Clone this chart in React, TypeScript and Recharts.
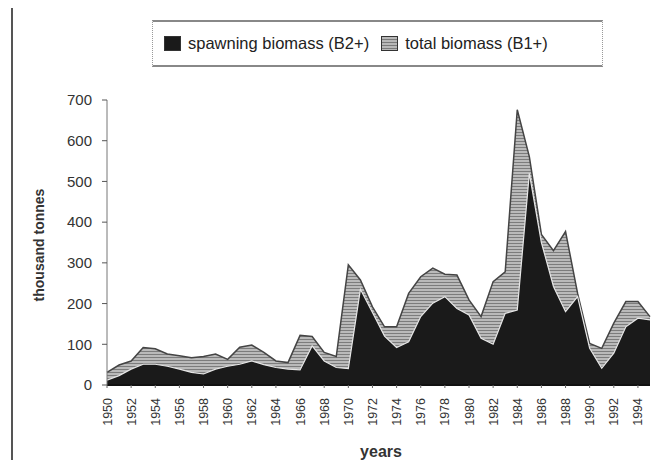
import { Area, AreaChart, XAxis, YAxis } from "recharts";

// stock biomass by year, thousand tonnes
const years = [
  1950, 1951, 1952, 1953, 1954, 1955, 1956, 1957, 1958, 1959,
  1960, 1961, 1962, 1963, 1964, 1965, 1966, 1967, 1968, 1969,
  1970, 1971, 1972, 1973, 1974, 1975, 1976, 1977, 1978, 1979,
  1980, 1981, 1982, 1983, 1984, 1985, 1986, 1987, 1988, 1989,
  1990, 1991, 1992, 1993, 1994, 1995,
];

const totalBiomass = [
  31, 49, 59, 92, 89, 76, 72, 67, 70, 76,
  63, 93, 98, 80, 59, 55, 122, 119, 80, 70,
  295, 258, 192, 143, 143, 225, 266, 287, 272, 270,
  209, 168, 254, 278, 676, 561, 370, 330, 377, 225,
  102, 90, 152, 205, 205, 168,
];

const spawningBiomass = [
  12, 23, 39, 51, 51, 46, 39, 31, 27, 39,
  46, 51, 59, 50, 43, 39, 37, 96, 59, 43,
  40, 235, 178, 120, 92, 106, 168, 201, 217, 188,
  172, 115, 100, 176, 184, 520, 350, 242, 180, 217,
  90, 41, 78, 143, 164, 160,
];

const yearTicks = [
  1950, 1952, 1954, 1956, 1958, 1960, 1962, 1964, 1966, 1968, 1970, 1972,
  1974, 1976, 1978, 1980, 1982, 1984, 1986, 1988, 1990, 1992, 1994,
];

const tonneTicks = [0, 100, 200, 300, 400, 500, 600, 700];

const data = years.map((year, i) => ({
  year,
  total: totalBiomass[i],
  spawning: spawningBiomass[i],
}));

const font = "'Liberation Sans', Arial, sans-serif";

function YearTick({ x, y, payload }: any) {
  return (
    <text
      x={x}
      y={y}
      transform={`rotate(-90, ${x}, ${y})`}
      textAnchor="end"
      dy="0.36em"
      fontSize={12.5}
      fontFamily={font}
      fill="#333"
    >
      {payload.value}
    </text>
  );
}

function Swatch({ fill }: { fill: string }) {
  return (
    <svg width={17} height={15} style={{ display: "block" }}>
      <defs>
        <pattern id="legendHatch" width="6" height="3" patternUnits="userSpaceOnUse">
          <rect width="6" height="3" fill="#b8b8b8" />
          <rect width="6" height="1" fill="#7a7a7a" />
        </pattern>
      </defs>
      <rect x={0.5} y={0.5} width={16} height={14} fill={fill} stroke="#333" />
    </svg>
  );
}

const legendItems = [
  { label: "spawning biomass (B2+)", fill: "#1a1a1a" },
  { label: "total biomass (B1+)", fill: "url(#legendHatch)" },
];

export default function App() {
  return (
    <div
      style={{
        position: "relative",
        width: 665,
        height: 468,
        margin: -8,
        background: "#fff",
        overflow: "hidden",
        fontFamily: font,
      }}
    >
      {/* page frame */}
      <div
        style={{
          position: "absolute",
          left: 11,
          top: 4,
          right: -2,
          bottom: -2,
          borderTop: "2px solid #7a7a7a",
          borderLeft: "2px solid #555",
        }}
      />

      <div
        style={{
          position: "absolute",
          left: 152,
          top: 20,
          width: 451,
          height: 47,
          boxSizing: "border-box",
          borderTop: "2px solid #888",
          borderBottom: "2px solid #888",
          borderLeft: "1px dotted #999",
          borderRight: "1px dotted #999",
          display: "flex",
          alignItems: "center",
          paddingLeft: 11,
          gap: 12,
          fontSize: 16.5,
          color: "#222",
        }}
      >
        {legendItems.map((item) => (
          <div key={item.label} style={{ display: "flex", alignItems: "center", gap: 7 }}>
            <Swatch fill={item.fill} />
            <span style={{ whiteSpace: "nowrap" }}>{item.label}</span>
          </div>
        ))}
      </div>

      <div style={{ position: "absolute", left: 0, top: 0 }}>
        <AreaChart
          width={665}
          height={468}
          data={data}
          margin={{ top: 100, right: 15, bottom: 43, left: 57 }}
        >
          <defs>
            <pattern id="totalHatch" width="6" height="3" patternUnits="userSpaceOnUse">
              <rect width="6" height="3" fill="#bababa" />
              <rect width="6" height="1" fill="#7c7c7c" />
            </pattern>
          </defs>
          <XAxis
            dataKey="year"
            type="number"
            domain={[1950, 1995]}
            ticks={yearTicks}
            interval={0}
            height={40}
            axisLine={{ stroke: "#111", strokeWidth: 2 }}
            tickLine={{ stroke: "#666" }}
            tickSize={3}
            tickMargin={10}
            tick={<YearTick />}
            label={{
              content: () => (
                <text
                  x={381}
                  y={453}
                  textAnchor="middle"
                  dominantBaseline="middle"
                  fontSize={16}
                  fontWeight="bold"
                  fontFamily={font}
                  fill="#333"
                >
                  years
                </text>
              ),
            }}
          />
          <YAxis
            type="number"
            domain={[0, 700]}
            ticks={tonneTicks}
            width={50}
            axisLine={{ stroke: "#777" }}
            tickLine={{ stroke: "#555" }}
            tickSize={5}
            tickMargin={10}
            tick={{ fontSize: 15, fill: "#333", fontFamily: font }}
            label={{
              content: () => (
                <text
                  x={40}
                  y={245}
                  transform="rotate(-90, 40, 245)"
                  textAnchor="middle"
                  dominantBaseline="middle"
                  fontSize={14}
                  fontWeight="bold"
                  fontFamily={font}
                  fill="#333"
                >
                  thousand tonnes
                </text>
              ),
            }}
          />
          <Area
            type="linear"
            dataKey="total"
            name="total biomass (B1+)"
            fill="url(#totalHatch)"
            fillOpacity={1}
            stroke="#444"
            strokeWidth={1.5}
            isAnimationActive={false}
          />
          <Area
            type="linear"
            dataKey="spawning"
            name="spawning biomass (B2+)"
            fill="#1a1a1a"
            fillOpacity={1}
            stroke="#e6e6e6"
            strokeWidth={1.2}
            isAnimationActive={false}
          />
        </AreaChart>
      </div>
    </div>
  );
}
